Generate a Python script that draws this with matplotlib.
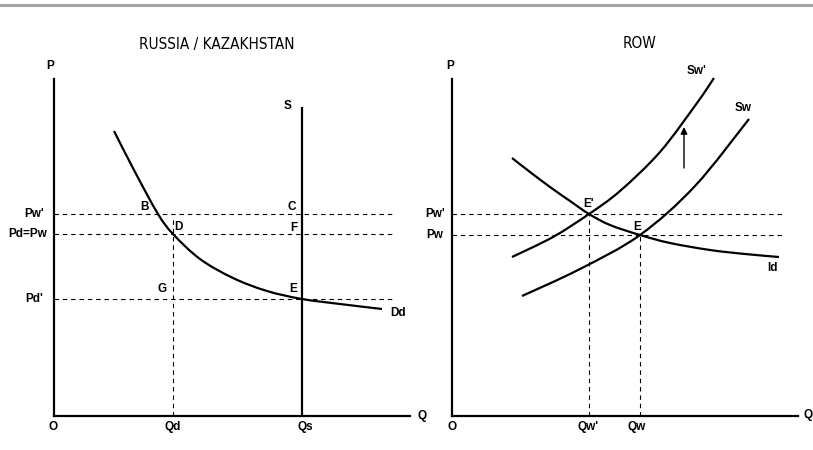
import matplotlib.pyplot as plt
import numpy as np
from matplotlib.path import Path
from matplotlib.patches import PathPatch

# Left panel (Russia / Kazakhstan): quantities and prices
pw_new_l = 202      # Pw'
pw_l = 182          # Pd=Pw
pd_new = 117        # Pd'
qd = 119
qs = 248
s_top = 309
dd_q = [60, 81, 104, 119, 146, 179, 213, 248, 286, 328]
dd_p = [285, 244, 202, 182, 157, 138, 125, 117, 112, 107]

# Right panel (ROW)
pw_new_r = 202      # Pw'
pw_r = 181          # Pw
qw_new = 137        # Qw'
qw = 188            # Qw
id_q = [60, 78, 98, 118, 137, 158, 188, 218, 258, 293, 327]
id_p = [258, 244, 229, 215, 202, 191, 181, 173, 166, 162, 159]
sw_new_q = [60, 101, 137, 168, 208, 245, 262]
sw_new_p = [159, 179, 202, 225, 264, 313, 338]
sw_q = [70, 128, 188, 243, 297]
sw_p = [120, 147, 181, 230, 297]

W, H = 813, 450
fig = plt.figure(figsize=(W / 100, H / 100), dpi=100)

# gray rule at the top
fig.add_artist(plt.Line2D([0, 1], [1 - 5 / H, 1 - 5 / H], color='#a3a3a3', lw=2.2))

title_kw = dict(ha='center', va='center', fontsize=11, family='DejaVu Sans',
                fontstretch='condensed', color='black')
fig.text(217 / W, 1 - 44 / H, 'RUSSIA / KAZAKHSTAN', **title_kw)
fig.text(640 / W, 1 - 44 / H, 'ROW', **title_kw)

lab = dict(fontsize=8.5, fontweight='bold', family='Liberation Sans', clip_on=False)
dash = dict(color='black', lw=0.8, linestyle=(0, (4, 3.5)))
curve = dict(color='black', lw=1.6, solid_capstyle='butt')


def make_axes(x0, y0, xmax, ymax):
    ax = fig.add_axes([x0 / W, (H - y0) / H, xmax / W, ymax / H])
    ax.set_xlim(0, xmax)
    ax.set_ylim(0, ymax)
    for s in ['top', 'right']:
        ax.spines[s].set_visible(False)
    for s in ['left', 'bottom']:
        ax.spines[s].set_linewidth(1.6)
    ax.set_xticks([])
    ax.set_yticks([])
    ax.patch.set_alpha(0)
    return ax


def smooth_curve(ax, q, p):
    # smooth path through the read points (Catmull-Rom drawn as Bezier segments)
    pts = np.column_stack([q, p]).astype(float)
    ext = np.vstack([pts[0], pts, pts[-1]])
    verts = [pts[0]]
    codes = [Path.MOVETO]
    for i in range(1, len(ext) - 2):
        c1 = ext[i] + (ext[i + 1] - ext[i - 1]) / 6
        c2 = ext[i + 1] - (ext[i + 2] - ext[i]) / 6
        verts += [c1, c2, ext[i + 1]]
        codes += [Path.CURVE4] * 3
    ax.add_patch(PathPatch(Path(verts, codes), fill=False, edgecolor='black',
                           lw=1.6, capstyle='butt', clip_on=False))


# ---- left panel ----
ax1 = make_axes(54, 416, 356, 337)
ax1.plot([0, 338], [pw_new_l, pw_new_l], **dash)
ax1.plot([0, 338], [pw_l, pw_l], **dash)
ax1.plot([0, 338], [pd_new, pd_new], **dash)
ax1.plot([qd, qd], [0, pw_new_l - 2], **dash)
ax1.plot([qs, qs], [0, s_top], **curve)
smooth_curve(ax1, dd_q, dd_p)

ax1.text(-4, 350, 'P', ha='center', va='center', **lab)
ax1.text(-10, pw_new_l, "Pw'", ha='right', va='center', **lab)
ax1.text(-7, pw_l, 'Pd=Pw', ha='right', va='center', **lab)
ax1.text(-11, pd_new, "Pd'", ha='right', va='center', **lab)
ax1.text(-1, -11, 'O', ha='center', va='center', **lab)
ax1.text(qd, -11, 'Qd', ha='center', va='center', **lab)
ax1.text(qs + 3, -11, 'Qs', ha='center', va='center', **lab)
ax1.text(368, 0, 'Q', ha='center', va='center', **lab)
ax1.text(234, 310, 'S', ha='center', va='center', **lab)
ax1.text(344, 103, 'Dd', ha='center', va='center', **lab)
ax1.text(90, 209, 'B', ha='center', va='center', **lab)
ax1.text(124, 189, 'D', ha='center', va='center', **lab)
ax1.text(108, 127, 'G', ha='center', va='center', **lab)
ax1.text(238, 209, 'C', ha='center', va='center', **lab)
ax1.text(240, 188, 'F', ha='center', va='center', **lab)
ax1.text(239, 127, 'E', ha='center', va='center', **lab)

# ---- right panel ----
ax2 = make_axes(452, 416, 346, 337)
ax2.plot([0, 331], [pw_new_r, pw_new_r], **dash)
ax2.plot([0, 331], [pw_r, pw_r], **dash)
ax2.plot([qw_new, qw_new], [0, pw_new_r], **dash)
ax2.plot([qw, qw], [0, pw_r], **dash)
smooth_curve(ax2, id_q, id_p)
smooth_curve(ax2, sw_new_q, sw_new_p)
smooth_curve(ax2, sw_q, sw_p)
ax2.annotate('', xy=(232, 289), xytext=(232, 248),
             arrowprops=dict(arrowstyle='-|>', color='black', lw=1.0,
                             mutation_scale=10, shrinkA=0, shrinkB=0))

ax2.text(-2, 350, 'P', ha='center', va='center', **lab)
ax2.text(-7, pw_new_r, "Pw'", ha='right', va='center', **lab)
ax2.text(-9, pw_r, 'Pw', ha='right', va='center', **lab)
ax2.text(0, -11, 'O', ha='center', va='center', **lab)
ax2.text(qw_new - 1, -11, "Qw'", ha='center', va='center', **lab)
ax2.text(qw - 3, -11, 'Qw', ha='center', va='center', **lab)
ax2.text(356, 1, 'Q', ha='center', va='center', **lab)
ax2.text(137, 212, "E'", ha='center', va='center', **lab)
ax2.text(185, 189, 'E', ha='center', va='center', **lab)
ax2.text(245, 345, "Sw'", ha='center', va='center', **lab)
ax2.text(291, 308, 'Sw', ha='center', va='center', **lab)
ax2.text(320, 148, 'Id', ha='center', va='center', **lab)

fig.savefig('out.png', dpi=100)
